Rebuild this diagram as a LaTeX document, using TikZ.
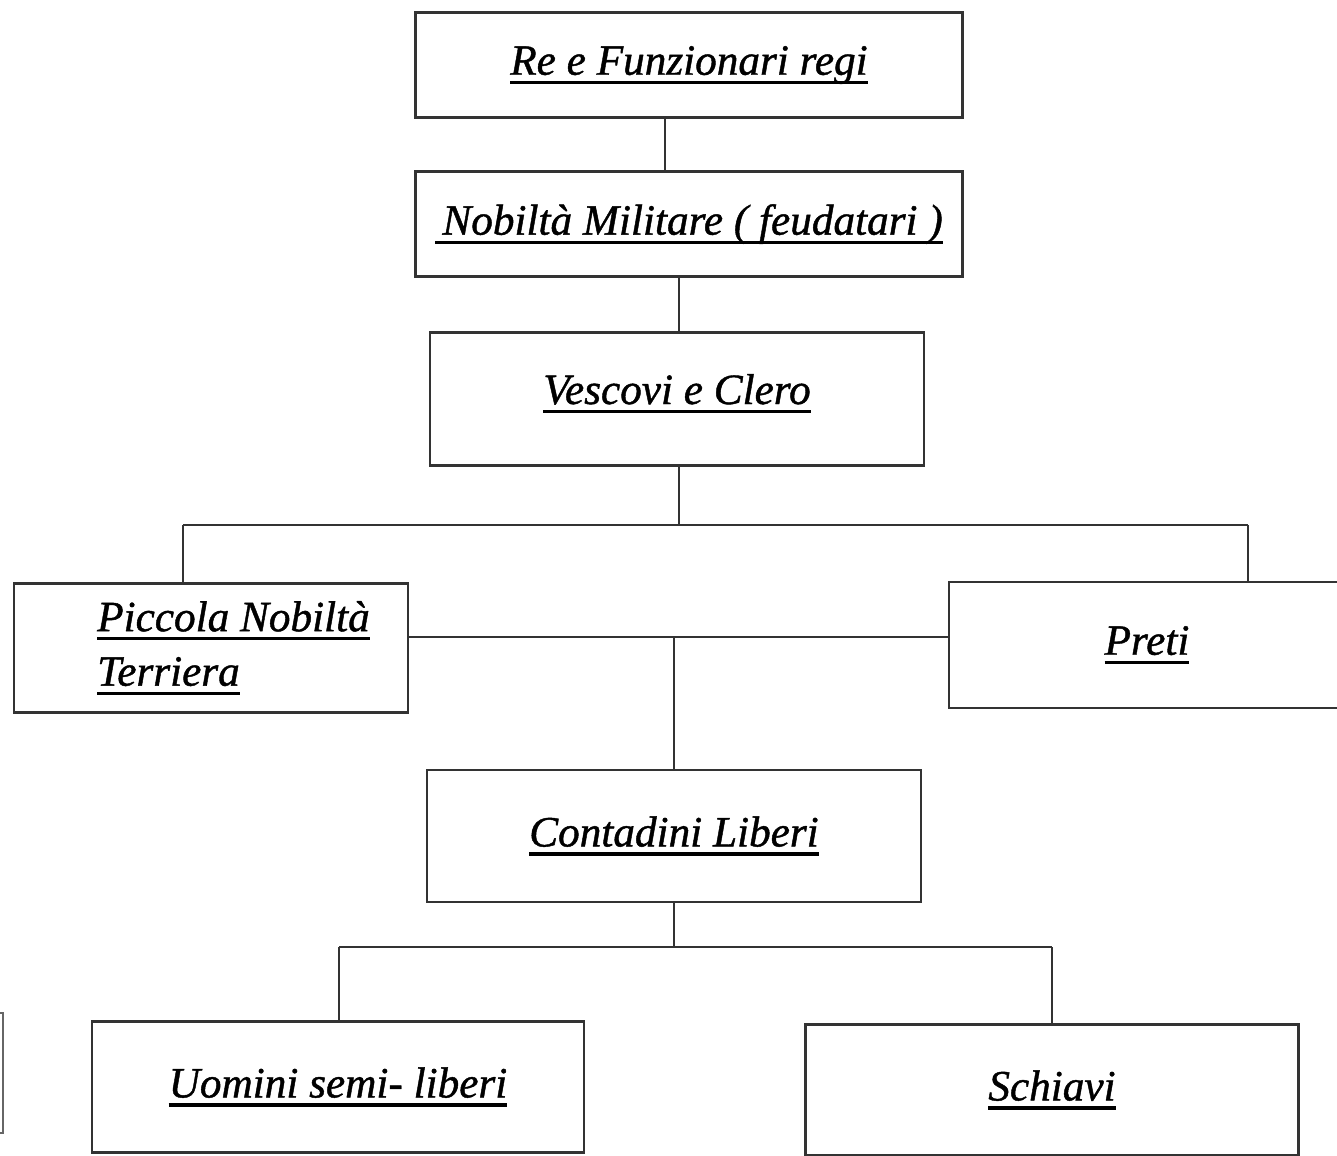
\documentclass[tikz,border=0pt]{standalone}
\usepackage{fontspec}
\setmainfont[ItalicFeatures={FakeBold=1}]{Liberation Serif}
\usepackage{tikz}
\usetikzlibrary{positioning}
\newcommand{\ul}[1]{\leavevmode\vtop{\hbox{\raisebox{0pt}[\height][0pt]{#1}}\kern1.7pt\hrule height 0.9pt}}

\begin{document}
\begin{tikzpicture}[x=0.1mm, y=-0.1mm,
  box/.style={rectangle, draw=black!80, line width=0.6pt, align=center, font=\fontsize{12.3}{15.5}\selectfont\itshape},
  conn/.style={draw=black!80, line width=0.45pt}
]
\useasboundingbox (0,0) rectangle (1337,1156);
\clip (0,0) rectangle (1337,1156);
\fill[white] (0,0) rectangle (1337,1156);
\node[box, minimum width=5.47cm, minimum height=1.05cm] (re) at (689,65) {\ul{Re e Funzionari regi}};
\node[box, minimum width=5.47cm, minimum height=1.05cm] (nob) at (689,224) {\ul{\,Nobiltà Militare ( feudatari )}};
\node[box, minimum width=4.94cm, minimum height=1.33cm] (cle) at (677,399) {\raisebox{0.2cm}{\ul{Vescovi e Clero}}};
\node[box, minimum width=3.94cm, minimum height=1.29cm, align=left] (picc) at (211,648) {\hspace*{0.45cm}\ul{Piccola Nobiltà}\\\hspace*{0.45cm}\ul{Terriera}};
\node[box, minimum width=3.96cm, minimum height=1.26cm] (pre) at (1147,645) {\ul{Preti}};
\node[box, minimum width=4.94cm, minimum height=1.32cm] (cont) at (674,836) {\ul{Contadini Liberi}};
\node[box, minimum width=4.92cm, minimum height=1.31cm] (semi) at (338,1087) {\ul{Uomini semi- liberi}};
\node[box, minimum width=4.93cm, minimum height=1.31cm] (sch) at (1052,1090) {\ul{Schiavi}};
\coordinate (b1) at (679,525);
\coordinate (bl) at (183,525);
\coordinate (br) at (1248,525);
\coordinate (mid) at (674,637);
\coordinate (b2) at (674,947);
\coordinate (b2l) at (339,947);
\coordinate (b2r) at (1052,947);
\draw[conn] ([xshift=-0.24cm]re.south) -- ([xshift=-0.24cm]nob.north);
\draw[conn] (nob.south -| b1) -- (cle.north -| b1);
\draw[conn] (cle.south -| b1) -- (b1);
\draw[conn] (bl) -- (br);
\draw[conn] (bl) -- (bl |- picc.north);
\draw[conn] (br) -- (br |- pre.north);
\draw[conn] (picc.east |- mid) -- (pre.west |- mid);
\draw[conn] (mid) -- (cont.north -| mid);
\draw[conn] (cont.south -| b2) -- (b2);
\draw[conn] (b2l) -- (b2r);
\draw[conn] (b2l) -- (b2l |- semi.north);
\draw[conn] (b2r) -- (b2r |- sch.north);
\draw[black!60, line width=0.4pt] (0,1013) -- (3,1013) -- (3,1133) -- (0,1133);
\end{tikzpicture}
\end{document}
